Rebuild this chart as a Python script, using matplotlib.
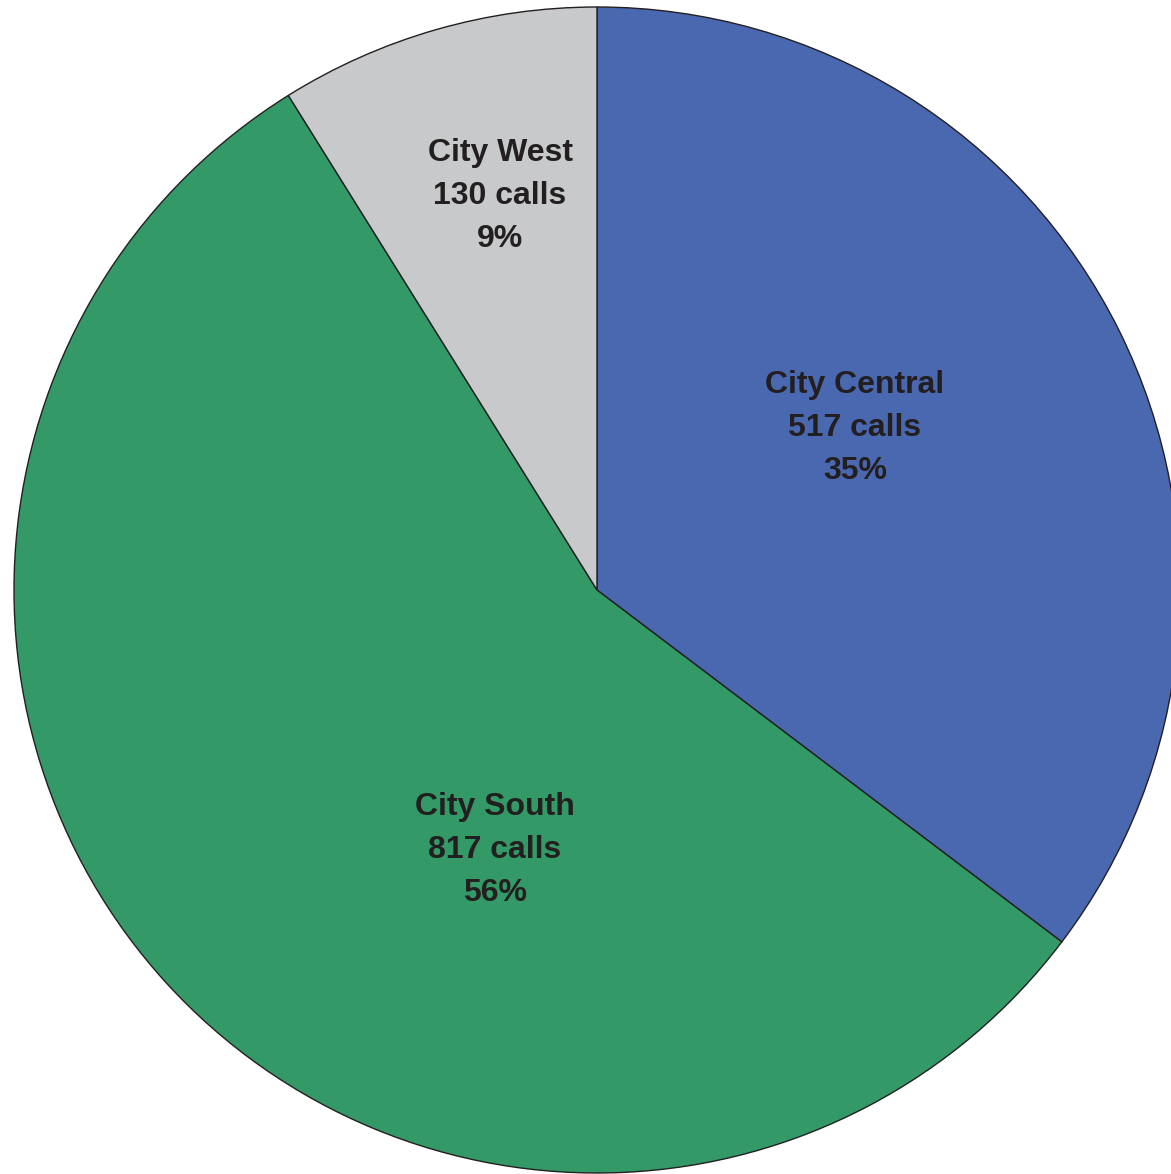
import matplotlib
matplotlib.use('Agg')
import matplotlib.pyplot as plt

# data
regions = ['City Central', 'City South', 'City West']
calls = [517, 817, 130]
colors = ['#4A68B0', '#339966', '#C8C9CB']

# label offsets from pie centre (pixels)
label_dx = [258, -102, -97]
label_dy = [162, -260, 394]

W, H = 1171, 1174
fig = plt.figure(figsize=(W / 100, H / 100), dpi=100)
ax = fig.add_axes([0, 0, 1, 1])

cx, cy, r = 597, H - 590, 583
ax.pie(calls, colors=colors, startangle=90, counterclock=False,
       center=(cx, cy), radius=r, frame=True,
       wedgeprops=dict(edgecolor='#231F20', linewidth=1.0))
ax.set_xlim(0, W)
ax.set_ylim(0, H)
ax.set_aspect('equal')
ax.axis('off')

total = sum(calls)
for name, v, dx, dy in zip(regions, calls, label_dx, label_dy):
    pct = round(100 * v / total)
    ax.text(cx + dx, cy + dy, f'{name}\n{v} calls\n{pct}%',
            ha='center', va='center', fontsize=23, fontweight='bold',
            family=['Liberation Sans', 'DejaVu Sans'], color='#231F20',
            linespacing=1.58)

fig.savefig('out.png', dpi=100)
